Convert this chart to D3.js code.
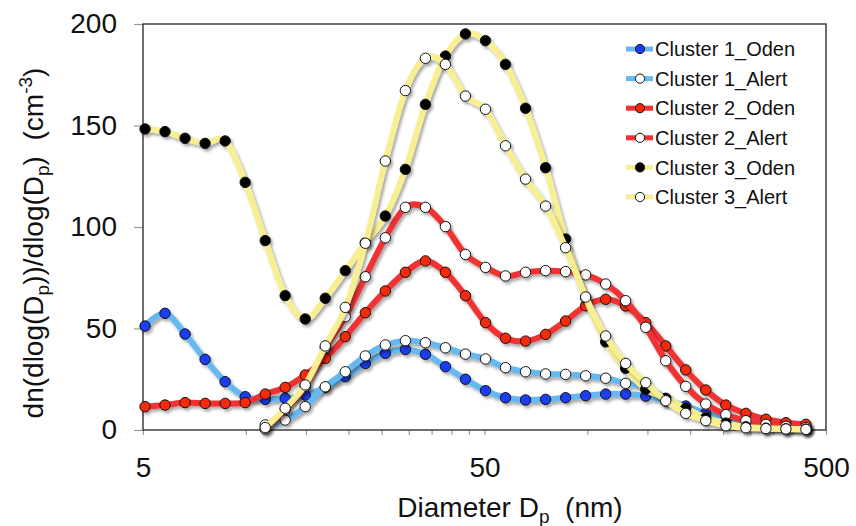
<!DOCTYPE html>
<html>
<head>
<meta charset="utf-8">
<script src="https://cdn.jsdelivr.net/npm/d3@7"></script>
<style>
  html, body { margin: 0; padding: 0; background: #fff; }
  svg { display: block; font-family: "Liberation Sans", Arial, Helvetica, sans-serif; }
</style>
</head>
<body>
<svg id="chart" width="856" height="526"></svg>
<script>
// Size-bin mid diameters (nm)
const diameters = [5.07, 5.80, 6.64, 7.60, 8.70, 9.96, 11.40, 13.04, 14.93, 17.09,
  19.56, 22.39, 25.62, 29.33, 33.57, 38.42, 43.97, 50.34, 57.61, 65.94,
  75.48, 86.39, 98.88, 113.2, 129.5, 148.3, 169.7, 194.2, 222.3, 254.5,
  291.3, 333.4, 381.6, 436.7];

// dN/dlogDp (cm^-3) per cluster and station; null = no data in that bin
const cluster1Oden = [51.2, 57.5, 47.3, 34.8, 23.8, 16.4, 15.1, 15.6, 17.2, 21.0,
  26.3, 32.8, 37.8, 39.7, 37.3, 31.2, 25.0, 19.4, 15.9, 14.8,
  15.1, 15.9, 16.9, 17.7, 17.7, 16.7, 14.4, 11.8, 8.4, 5.5,
  3.5, 2.2, 1.5, 1.0];
const cluster1Alert = [null, null, null, null, null, null, 2.5, 4.9, 11.5, 21.3,
  28.7, 36.5, 41.9, 44.0, 43.0, 40.5, 37.4, 35.0, 30.7, 28.7,
  27.6, 27.4, 26.7, 25.5, 23.0, 21.3, 15.5, 10.3, 6.5, 4.0,
  2.5, 1.6, 1.1, 0.7];
const cluster2Oden = [11.5, 12.3, 13.5, 13.1, 13.1, 13.5, 17.7, 21.0, 27.1, 35.3,
  46.0, 57.8, 68.5, 77.7, 83.3, 77.7, 66.2, 52.9, 45.2, 43.8,
  47.1, 53.7, 61.2, 64.4, 61.1, 52.9, 41.4, 29.6, 19.7, 12.3,
  8.2, 5.3, 3.6, 2.8];
const cluster2Alert = [null, null, null, null, null, null, 0.5, 10.0, 21.5, 40.5,
  55.8, 75.5, 94.7, 109.7, 109.7, 100.2, 86.5, 80.1, 75.9, 77.7,
  78.5, 78.0, 76.4, 71.9, 63.7, 50.6, 34.1, 21.5, 12.8, 7.6,
  4.6, 2.8, 1.8, 1.2];
const cluster3Oden = [148.3, 147.0, 143.7, 141.2, 142.4, 122.0, 93.3, 66.2, 54.7, 64.9,
  78.5, 92.3, 105.4, 128.4, 160.4, 184.2, 195.1, 191.8, 180.1, 158.5,
  129.2, 94.1, 65.2, 43.4, 30.4, 20.1, 15.6, 10.7, 6.0, 3.4,
  1.6, 0.9, 0.6, 0.4];
const cluster3Alert = [null, null, null, null, null, null, 1.2, 10.7, 22.2, 41.4,
  60.4, 92.0, 132.5, 167.2, 183.1, 180.1, 164.5, 158.0, 140.0, 123.6,
  110.3, 89.8, 65.5, 46.3, 32.8, 23.3, 14.4, 8.2, 4.6, 2.1,
  1.1, 0.7, 0.5, 0.3];

const seriesNames = ["Cluster 1_Oden", "Cluster 1_Alert", "Cluster 2_Oden",
  "Cluster 2_Alert", "Cluster 3_Oden", "Cluster 3_Alert"];
const lineColors = ["#66b8f0", "#66b8f0", "#f03232", "#f03232", "#f7ef92", "#f7ef92"];
const markerFills = ["#1a3cf2", "#ffffff", "#f52a0a", "#ffffff", "#000000", "#ffffff"];

const xTickLabels = [5, 50, 500];
const xMinorTicks = [5, 10, 15, 20, 25, 30, 35, 40, 45, 50,
  100, 150, 200, 250, 300, 350, 400, 450, 500];
const yTicks = [0, 50, 100, 150, 200];

const seriesValues = [cluster1Oden, cluster1Alert, cluster2Oden, cluster2Alert, cluster3Oden, cluster3Alert];
const series = seriesNames.map((name, i) => ({
  name,
  line: lineColors[i],
  fill: markerFills[i],
  points: diameters.map((d, k) => ({ d, v: seriesValues[i][k] })).filter(p => p.v != null)
}));

const svg = d3.select("#chart");
const plot = { left: 143, right: 826, top: 24, bottom: 430 };

const x = d3.scaleLog().domain([5, 500]).range([plot.left, plot.right]);
const y = d3.scaleLinear().domain([0, 200]).range([plot.bottom, plot.top]);

// soft drop shadow under the curves and markers
const defs = svg.append("defs");
defs.append("filter")
  .attr("id", "shade")
  .attr("x", "-5%").attr("y", "-5%").attr("width", "115%").attr("height", "115%")
  .append("feDropShadow")
  .attr("dx", 2).attr("dy", 2.5).attr("stdDeviation", 1.6)
  .attr("flood-color", "#000").attr("flood-opacity", 0.35);

// axes
const xAxis = d3.axisBottom(x)
  .tickValues(xMinorTicks)
  .tickSize(5)
  .tickPadding(22)
  .tickFormat(d => xTickLabels.includes(d) ? String(d) : "");
const gx = svg.append("g").attr("transform", `translate(0,${plot.bottom})`).call(xAxis);
gx.select(".domain").remove();
gx.selectAll(".tick line").attr("stroke", "#9a9a9a").attr("stroke-width", 1.2);
gx.selectAll(".tick text").attr("font-size", 28).attr("fill", "#111")
  .attr("font-family", "Liberation Sans, Arial, sans-serif");

const yAxis = d3.axisLeft(y).tickValues(yTicks).tickSize(9).tickPadding(17);
const gy = svg.append("g").attr("transform", `translate(${plot.left},0)`).call(yAxis);
gy.select(".domain").remove();
gy.selectAll(".tick line").attr("stroke", "#9a9a9a").attr("stroke-width", 1.2);
gy.selectAll(".tick text").attr("font-size", 28).attr("fill", "#111")
  .attr("font-family", "Liberation Sans, Arial, sans-serif");

// plot frame
svg.append("rect")
  .attr("x", plot.left).attr("y", plot.top)
  .attr("width", plot.right - plot.left).attr("height", plot.bottom - plot.top)
  .attr("fill", "none").attr("stroke", "#333").attr("stroke-width", 1.4);

// series: smoothed lines with circle markers
const lineGen = d3.line()
  .x(p => x(p.d))
  .y(p => y(p.v))
  .curve(d3.curveCardinal.tension(0));

const gSeries = svg.append("g");
series.forEach(s => {
  const g = gSeries.append("g").attr("filter", "url(#shade)");
  g.append("path")
    .attr("d", lineGen(s.points))
    .attr("fill", "none")
    .attr("stroke", s.line)
    .attr("stroke-width", 6)
    .attr("stroke-linejoin", "round")
    .attr("stroke-linecap", "round");
  g.selectAll("circle").data(s.points).join("circle")
    .attr("cx", p => x(p.d))
    .attr("cy", p => y(p.v))
    .attr("r", 5.2)
    .attr("fill", s.fill)
    .attr("stroke", "#111")
    .attr("stroke-width", 1);
});

// legend
const legend = svg.append("g").attr("transform", "translate(626,49)");
series.forEach((s, i) => {
  const row = legend.append("g").attr("transform", `translate(0,${i * 29.6})`);
  row.append("line")
    .attr("x1", 0).attr("x2", 27).attr("y1", 0).attr("y2", 0)
    .attr("stroke", s.line).attr("stroke-width", 5);
  row.append("circle")
    .attr("cx", 14).attr("cy", 0).attr("r", 4.6)
    .attr("fill", s.fill).attr("stroke", "#111").attr("stroke-width", 1);
  row.append("text")
    .attr("x", 29).attr("y", 0).attr("dy", "0.36em")
    .attr("font-size", 20).attr("fill", "#111")
    .text(s.name);
});

// axis titles
const xt = svg.append("text")
  .attr("x", 510).attr("y", 517)
  .attr("text-anchor", "middle")
  .attr("font-size", 28).attr("fill", "#111");
xt.append("tspan").text("Diameter D");
xt.append("tspan").attr("font-size", 19).attr("dy", 6).text("p");
xt.append("tspan").attr("dy", -6).text("\u00a0\u00a0(nm)");

const yt = svg.append("text")
  .attr("transform", "translate(43,243) rotate(-90)")
  .attr("text-anchor", "middle")
  .attr("font-size", 28).attr("fill", "#111");
yt.append("tspan").text("dn(dlog(D");
yt.append("tspan").attr("font-size", 19).attr("dy", 6).text("p");
yt.append("tspan").attr("dy", -6).text("))/dlog(D");
yt.append("tspan").attr("font-size", 19).attr("dy", 6).text("p");
yt.append("tspan").attr("dy", -6).text(")\u00a0\u00a0(cm");
yt.append("tspan").attr("font-size", 19).attr("dy", -11).text("-3");
yt.append("tspan").attr("dy", 11).text(")");
</script>
</body>
</html>
